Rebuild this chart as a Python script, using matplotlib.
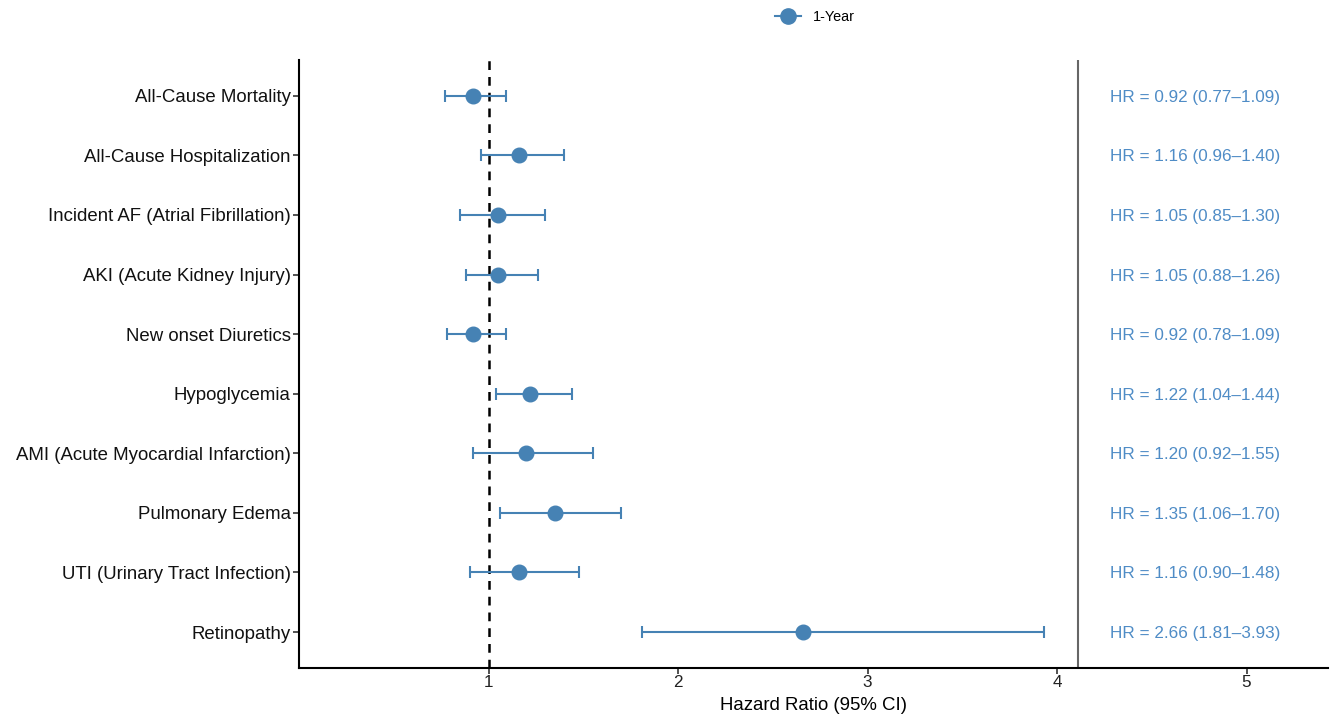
import matplotlib
matplotlib.use("Agg")
import matplotlib.pyplot as plt
from matplotlib.lines import Line2D

plt.rcParams['font.family'] = ['Liberation Sans', 'DejaVu Sans']

outcomes = ["All-Cause Mortality", "All-Cause Hospitalization",
            "Incident AF (Atrial Fibrillation)", "AKI (Acute Kidney Injury)",
            "New onset Diuretics", "Hypoglycemia",
            "AMI (Acute Myocardial Infarction)", "Pulmonary Edema",
            "UTI (Urinary Tract Infection)", "Retinopathy"]
hr = [0.92, 1.16, 1.05, 1.05, 0.92, 1.22, 1.20, 1.35, 1.16, 2.66]
lower = [0.77, 0.96, 0.85, 0.88, 0.78, 1.04, 0.92, 1.06, 0.90, 1.81]
upper = [1.09, 1.40, 1.30, 1.26, 1.09, 1.44, 1.55, 1.70, 1.48, 3.93]
xticks = [1, 2, 3, 4, 5]

color = "#4682B4"
text_color = "#4F8CC6"

fig = plt.figure(figsize=(13.42, 7.26), dpi=100)
ax = fig.add_axes([299/1342, 1-667.8/726, (1328-299)/1342, (667.8-60)/726])

n = len(outcomes)
ys = [n - i for i in range(n)]
xerr = [[h - l for h, l in zip(hr, lower)], [u - h for h, u in zip(hr, upper)]]

ax.axvline(1, color="black", linestyle=(0, (3.5, 2.8)), linewidth=1.8, zorder=1)
ax.axvline(4.11, color="#666666", linewidth=1.5, zorder=1)

ax.errorbar(hr, ys, xerr=xerr, fmt="o", color=color, ecolor=color,
            elinewidth=1.5, capsize=4.5, capthick=1.5, markersize=10.5, zorder=3)

for y, h, l, u in zip(ys, hr, lower, upper):
    ax.text(4.28, y, f"HR = {h:.2f} ({l:.2f}\u2013{u:.2f})", color=text_color,
            fontsize=12.3, va="center_baseline", ha="left")

ax.set_xlim(0, 5.43)
ax.set_ylim(0.4, n + 0.6)
ax.set_yticks(ys)
ax.set_yticklabels(outcomes, fontsize=13.4, color="#111111")
ax.set_xticks(xticks)
ax.set_xticklabels([str(t) for t in xticks], fontsize=12.3, color="#222222")
ax.set_xlabel("Hazard Ratio (95% CI)", fontsize=13.4, labelpad=4.5)

for s in ["top", "right"]:
    ax.spines[s].set_visible(False)
for s in ["left", "bottom"]:
    ax.spines[s].set_linewidth(1.5)
ax.tick_params(axis="both", length=4, width=1.2, color="#333333")
ax.tick_params(axis="y", pad=2)
ax.tick_params(axis="x", pad=1.5)

handle = Line2D([0], [0], color=color, marker="o", markersize=11, linewidth=1.5)
fig.legend([handle], ["1-Year"], loc="center", bbox_to_anchor=(815/1342, 1-17/726),
           frameon=False, fontsize=10.4, handlelength=1.8)

fig.savefig("out.png", dpi=100)
